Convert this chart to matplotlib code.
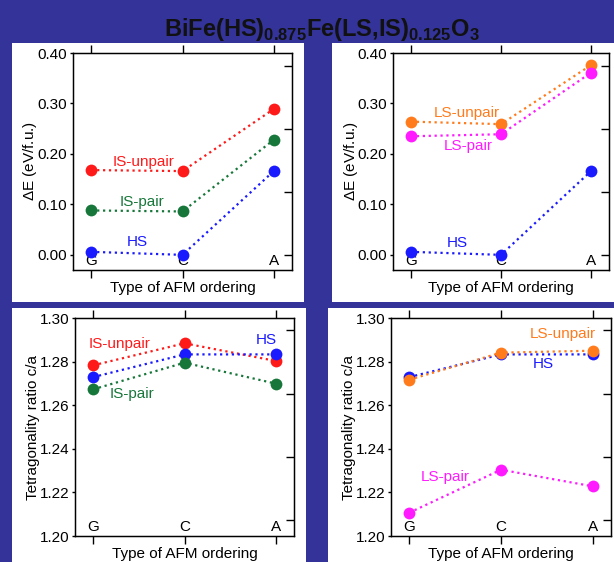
import matplotlib
matplotlib.use("Agg")
import matplotlib.pyplot as plt
from matplotlib.patches import Rectangle

plt.rcParams['font.family'] = ['Liberation Sans', 'DejaVu Sans']
plt.rcParams['mathtext.fontset'] = 'custom'
plt.rcParams['mathtext.rm'] = 'Liberation Sans'
plt.rcParams['mathtext.bf'] = 'Liberation Sans:bold'

# ---- data ----
orders = ['G', 'C', 'A']

# energies (eV/f.u.)
dE_hs = [0.006, 0.000, 0.166]
dE_is_unpair = [0.168, 0.166, 0.289]
dE_is_pair = [0.088, 0.086, 0.228]
dE_ls_unpair = [0.264, 0.259, 0.376]
dE_ls_pair = [0.235, 0.239, 0.361]

# tetragonality c/a
ca_hs = [1.2729, 1.2833, 1.2833]
ca_is_unpair = [1.2783, 1.2884, 1.2803]
ca_is_pair = [1.2673, 1.2795, 1.2699]
ca_ls_unpair = [1.2717, 1.2841, 1.2850]
ca_ls_pair = [1.2107, 1.2304, 1.2228]

RED = '#ff1a1a'
GREEN = '#17773a'
BLUE = '#1a1aff'
ORANGE = '#ff7b1c'
MAGENTA = '#ff1aff'
BG = '#333399'

W, H = 614, 562
fig = plt.figure(figsize=(W / 100, H / 100), dpi=100, facecolor=BG)

# white panels (pixel boxes: left, top, right, bottom)
for l, t, r, b in [(12, 43, 304, 302), (332, 43, 614, 302),
                   (12, 308, 306, 562), (328, 308, 614, 562)]:
    fig.patches.append(Rectangle((l / W, 1 - b / H), (r - l) / W, (b - t) / H,
                                 transform=fig.transFigure, facecolor='white',
                                 edgecolor='none', zorder=-5))


def make_ax(l, t, r, b):
    return fig.add_axes([l / W, 1 - b / H, (r - l) / W, (b - t) / H])


def style(ax, ylim, yticks, fmt, right_ticks, ylabel, ylpad):
    x = range(len(orders))
    ax.set_xlim(-0.2, 2.2)
    ax.set_ylim(*ylim)
    ax.set_xticks(list(x))
    ax.set_xticklabels(orders)
    ax.set_yticks(yticks)
    ax.set_yticklabels([fmt.format(v) for v in yticks])
    ax.tick_params(axis='x', which='both', direction='out', length=6, width=1,
                   top=True, bottom=True, pad=-17.5, labelsize=11)
    ax.tick_params(axis='y', direction='out', length=2, width=1, labelsize=11, pad=2)
    for s in ax.spines.values():
        s.set_linewidth(1)
    ax.set_xlabel('Type of AFM ordering', fontsize=11, labelpad=2)
    ax.set_ylabel(ylabel, fontsize=11, labelpad=ylpad)
    tw = ax.twinx()
    tw.set_ylim(*ylim)
    tw.set_yticks(right_ticks)
    tw.tick_params(axis='y', direction='in', length=6, width=1, labelright=False)


def series(ax, vals, color):
    ax.plot(range(len(orders)), vals, ':', color=color, lw=1.6,
            marker='o', ms=8.5, markeredgewidth=0, zorder=3)


# ---- top-left: IS ----
ax1 = make_ax(73, 53, 292, 270)
series(ax1, dE_is_unpair, RED)
series(ax1, dE_is_pair, GREEN)
series(ax1, dE_hs, BLUE)
ax1.text(0.57, 0.185, 'IS-unpair', color=RED, fontsize=11, ha='center', va='center')
ax1.text(0.56, 0.104, 'IS-pair', color=GREEN, fontsize=11, ha='center', va='center')
ax1.text(0.50, 0.025, 'HS', color=BLUE, fontsize=11, ha='center', va='center')
style(ax1, (-0.03, 0.40), [0.0, 0.1, 0.2, 0.3, 0.4], '{:.2f}',
      [0.0, 0.125, 0.25, 0.375], '$\\Delta$E (eV/f.u.)', -1)

# ---- top-right: LS ----
ax2 = make_ax(393, 53, 609, 270)
series(ax2, dE_ls_unpair, ORANGE)
series(ax2, dE_ls_pair, MAGENTA)
series(ax2, dE_hs, BLUE)
ax2.text(0.62, 0.281, 'LS-unpair', color=ORANGE, fontsize=11, ha='center', va='center')
ax2.text(0.64, 0.216, 'LS-pair', color=MAGENTA, fontsize=11, ha='center', va='center')
ax2.text(0.52, 0.024, 'HS', color=BLUE, fontsize=11, ha='center', va='center')
style(ax2, (-0.03, 0.40), [0.0, 0.1, 0.2, 0.3, 0.4], '{:.2f}',
      [0.0, 0.125, 0.25, 0.375], '$\\Delta$E (eV/f.u.)', -1.5)

# ---- bottom-left: IS c/a ----
ax3 = make_ax(75, 318, 294, 536)
series(ax3, ca_is_unpair, RED)
series(ax3, ca_hs, BLUE)
series(ax3, ca_is_pair, GREEN)
ax3.text(0.29, 1.288, 'IS-unpair', color=RED, fontsize=11, ha='center', va='center')
ax3.text(1.90, 1.2898, 'HS', color=BLUE, fontsize=11, ha='center', va='center')
ax3.text(0.42, 1.265, 'IS-pair', color=GREEN, fontsize=11, ha='center', va='center')
style(ax3, (1.20, 1.30), [1.20, 1.22, 1.24, 1.26, 1.28, 1.30], '{:.2f}',
      [1.2072, 1.2362, 1.2653, 1.2943], 'Tetragonality ratio c/a', 0)

# ---- bottom-right: LS c/a ----
ax4 = make_ax(391, 318, 611, 536)
series(ax4, ca_hs, BLUE)
series(ax4, ca_ls_unpair, ORANGE)
series(ax4, ca_ls_pair, MAGENTA)
ax4.text(1.675, 1.2925, 'LS-unpair', color=ORANGE, fontsize=11, ha='center', va='center')
ax4.text(1.46, 1.279, 'HS', color=BLUE, fontsize=11, ha='center', va='center')
ax4.text(0.39, 1.2271, 'LS-pair', color=MAGENTA, fontsize=11, ha='center', va='center')
style(ax4, (1.20, 1.30), [1.20, 1.22, 1.24, 1.26, 1.28, 1.30], '{:.2f}',
      [1.2072, 1.2362, 1.2653, 1.2943], 'Tetragonality ratio c/a', 0)

fig.text(0.524, 1 - 36 / H,
         r'BiFe(HS)$_{\mathbf{0.875}}$Fe(LS,IS)$_{\mathbf{0.125}}$O$_{\mathbf{3}}$',
         ha='center', va='baseline', fontsize=17, fontweight='bold', color='#111111')

fig.savefig('out.png', dpi=100, facecolor=BG)
